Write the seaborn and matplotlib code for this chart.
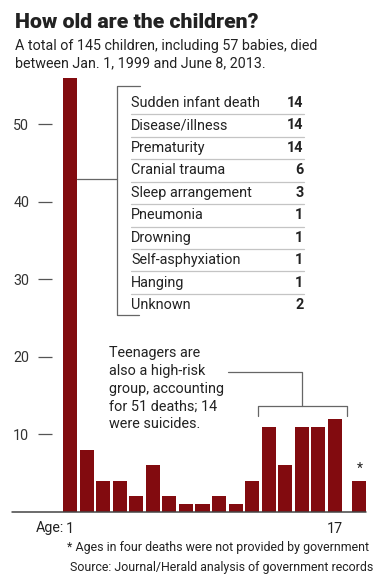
import matplotlib
matplotlib.use("Agg")
import matplotlib.pyplot as plt
import seaborn as sns

sns.set_style("white")
plt.rcParams['font.family'] = ['Roboto', 'DejaVu Sans']

# ---- data ----
ages = ["1", "2", "3", "4", "5", "6", "7", "8", "9", "10", "11", "12",
        "13", "14", "15", "16", "17", "*"]
deaths = [56, 8, 4, 4, 2, 6, 2, 1, 1, 2, 1, 4, 11, 6, 11, 11, 12, 4]
causes = ["Sudden infant death", "Disease/illness", "Prematurity",
          "Cranial trauma", "Sleep arrangement", "Pneumonia", "Drowning",
          "Self-asphyxiation", "Hanging", "Unknown"]
cause_counts = [14, 14, 14, 6, 3, 1, 1, 1, 1, 2]
yticks = [10, 20, 30, 40, 50]

title = "How old are the children?"
subtitle = ["A total of 145 children, including 57 babies, died",
            "between Jan. 1, 1999 and June 8, 2013."]
teen_note = ["Teenagers are", "also a high-risk", "group, accounting",
             "for 51 deaths; 14", "were suicides."]
footnote = "* Ages in four deaths were not provided by government"
source = "Source: Journal/Herald analysis of government records"

BAR = "#820b0f"
TXT = "#222222"
GRAY = "#555555"

W, H = 385, 585
fig = plt.figure(figsize=(W / 100, H / 100), dpi=100)


def fx(x):
    return x / W


def fy(y):
    return 1 - y / H


# axes geometry in pixels
ax_left, ax_right = 52, 366
base_y = 511.8
ppu = 7.75
ymax = 56
ax = fig.add_axes([fx(ax_left), fy(base_y), (ax_right - ax_left) / W,
                   ymax * ppu / H])

# positions: ages consecutive, unknown separated by half a slot
xpos = [float(i) for i in range(len(ages) - 1)] + [len(ages) - 1 + 0.5]
sns.barplot(x=xpos, y=deaths, native_scale=True, color=BAR, saturation=1,
            width=0.85, ax=ax, linewidth=0)

pitch = 16.525
x0_px = 70.3
ax.set_xlim(-(x0_px - ax_left) / pitch, (ax_right - x0_px) / pitch)
ax.set_ylim(0, ymax)
for s in ax.spines.values():
    s.set_visible(False)
ax.axhline(0, xmin=(12 - ax_left) / (ax_right - ax_left), xmax=1,
           color="#444444", lw=1.1, clip_on=False, zorder=5)

ax.set_yticks(yticks)
ax.set_yticklabels([str(v) for v in yticks])
ax.tick_params(axis="y", length=10.1, width=0.9, color=GRAY, pad=6.3,
               labelsize=10.3, labelcolor="#333333", left=True)
ax.set_xticks([xpos[0], xpos[16]])
ax.set_xticklabels([ages[0], ages[16]])
ax.tick_params(axis="x", length=0, pad=7.5, labelsize=10.3, labelcolor=TXT,
               bottom=True)
ax.set_xlabel("")
ax.set_ylabel("")

# "Age:" before the 1
fig.text(fx(64.5), fy(532), "Age:", ha="right", va="baseline",
         fontsize=10.3, color=TXT)

# asterisk above unknown bar
ax.text(xpos[-1], deaths[-1] + 0.6, "*", ha="center", va="bottom",
        fontsize=10, color=TXT)

# title / subtitle
fig.text(fx(15), fy(28), title, ha="left", va="baseline", fontsize=15.3,
         fontweight="heavy", color=TXT)
fig.text(fx(15), fy(50), subtitle[0], ha="left", va="baseline",
         fontsize=10.3, color=TXT)
fig.text(fx(15), fy(67.5), subtitle[1], ha="left", va="baseline",
         fontsize=10.3, color=TXT)

# table of causes
row_pitch = 22.46
row_c0 = 103.0
for i, (c, n) in enumerate(zip(causes, cause_counts)):
    yc = row_c0 + i * row_pitch
    fig.text(fx(131), fy(yc), c, ha="left", va="center", fontsize=10.4,
             color=TXT)
    fig.text(fx(303.5), fy(yc), str(n), ha="right", va="center",
             fontsize=10.4, fontweight="bold", color=TXT)
    if i < len(causes) - 1:
        ys = yc + row_pitch / 2
        fig.add_artist(plt.Line2D([fx(130.7), fx(304.3)], [fy(ys), fy(ys)],
                                  color="#c4c4c4", lw=0.9))

LC = "#666666"
# bracket around table
fig.add_artist(plt.Line2D([fx(140), fx(117.3), fx(117.3), fx(139.3)],
                          [fy(86), fy(86), fy(315), fy(315)], color=LC, lw=0.9))
fig.add_artist(plt.Line2D([fx(77.3), fx(117.3)], [fy(179), fy(179)],
                          color=LC, lw=0.9))

# teen annotation
for i, line in enumerate(teen_note):
    fig.text(fx(109.3), fy(357.3 + i * 17.75), line, ha="left",
             va="baseline", fontsize=10.4, color=TXT)
fig.add_artist(plt.Line2D([fx(228.3), fx(301.7), fx(301.7)],
                          [fy(371.7), fy(371.7), fy(406)], color=LC, lw=0.9))
fig.add_artist(plt.Line2D([fx(258.3), fx(258.3), fx(347.3), fx(347.3)],
                          [fy(416), fy(406), fy(406), fy(416)], color=LC,
                          lw=0.9))

# footnotes
fig.text(fx(369), fy(550.5), footnote, ha="right", va="baseline",
         fontsize=8.9, color=TXT)
fig.text(fx(373), fy(571.5), source, ha="right", va="baseline",
         fontsize=8.9, color=TXT)

fig.savefig("out.png", dpi=100, facecolor="white")
